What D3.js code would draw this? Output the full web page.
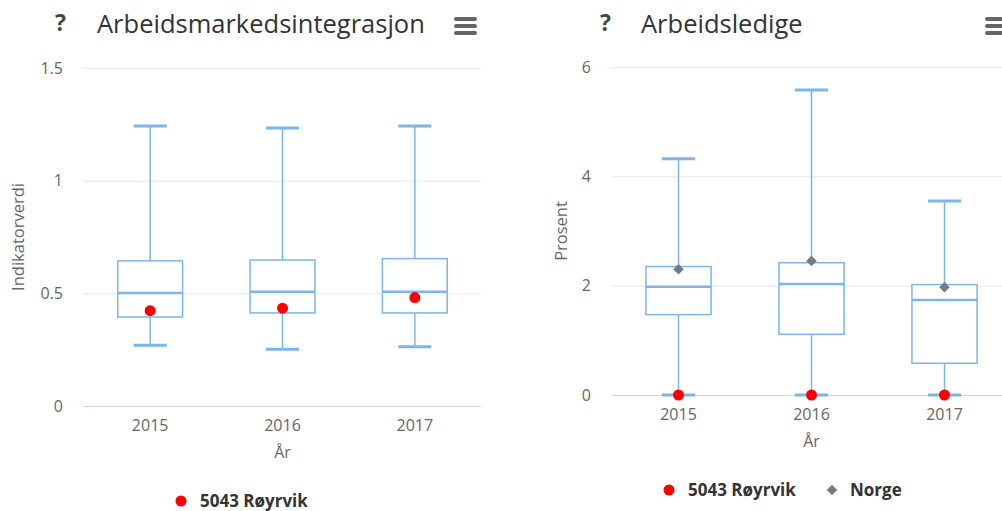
<!DOCTYPE html>
<html>
<head>
<meta charset="utf-8">
<script src="https://cdn.jsdelivr.net/npm/d3@7"></script>
<style>
  body { margin: 0; background: #fff; overflow: hidden; }
  text { font-family: "Open Sans", sans-serif; }
</style>
</head>
<body>
<div id="chartid"></div>
<script>
"use strict"

var years = ["2015", "2016", "2017"];

// Arbeidsmarkedsintegrasjon (indikatorverdi)
var integLow    = [0.270, 0.252, 0.263];
var integQ1     = [0.395, 0.413, 0.413];
var integMedian = [0.501, 0.507, 0.507];
var integQ3     = [0.644, 0.648, 0.654];
var integHigh   = [1.243, 1.234, 1.243];
var integRoyrvik = [0.423, 0.434, 0.481];
var integTicks  = [0, 0.5, 1, 1.5];

// Arbeidsledige (prosent)
var ledigLow    = [0, 0, 0];
var ledigQ1     = [1.47, 1.11, 0.58];
var ledigMedian = [1.98, 2.03, 1.74];
var ledigQ3     = [2.35, 2.42, 2.02];
var ledigHigh   = [4.32, 5.58, 3.55];
var ledigRoyrvik = [0, 0, 0];
var ledigNorge  = [2.30, 2.45, 1.97];
var ledigTicks  = [0, 2, 4, 6];

var svg = d3.select("#chartid").append("svg")
  .attr("width", 1002)
  .attr("height", 511);

function makeBoxes(low, q1, med, q3, high){
  return years.map(function(y, i){
    return {year: y, low: low[i], q1: q1[i], median: med[i], q3: q3[i], high: high[i]};
  });
}

function drawPanel(p){
  var g = svg.append("g");

  var x = d3.scaleBand().domain(years).range([p.left, p.right]);
  var y = d3.scaleLinear().domain([0, d3.max(p.ticks)]).range([p.bottom, p.top]);
  var bw = x.bandwidth();
  var cx = function(d){ return x(d) + bw / 2; };

  // title bar
  g.append("text").attr("x", p.qx).attr("y", 31)
    .attr("font-size", 23).attr("font-weight", "bold").attr("fill", "#444")
    .text("?");
  g.append("text").attr("x", p.titleX).attr("y", 33)
    .attr("font-size", 25.5).attr("fill", "#333")
    .text(p.title);
  [0, 7, 14].forEach(function(o){
    g.append("rect").attr("x", p.menuX).attr("y", 17 + o)
      .attr("width", 23).attr("height", 4).attr("rx", 2)
      .attr("fill", "#666");
  });

  // grid + y labels
  var yAxis = d3.axisLeft(y).tickValues(p.ticks)
    .tickSize(-(p.gridRight - p.left)).tickPadding(21)
    .tickFormat(function(d){ return String(d); });
  var ga = g.append("g").attr("transform", "translate(" + p.left + ",0)").call(yAxis);
  ga.select(".domain").remove();
  ga.selectAll(".tick line").attr("stroke", "#e6e6e6");
  ga.selectAll(".tick").filter(function(d){ return d === 0; }).select("line").attr("stroke", "#ccd6eb");
  ga.selectAll(".tick text").attr("fill", "#666").attr("font-size", 16)
    .style("font-family", "'Open Sans', sans-serif");

  // x labels
  var xAxis = d3.axisBottom(x).tickSize(0).tickPadding(14);
  var gx = g.append("g").attr("transform", "translate(0," + p.bottom + ")").call(xAxis);
  gx.select(".domain").remove();
  gx.selectAll(".tick text").attr("fill", "#666").attr("font-size", 16)
    .style("font-family", "'Open Sans', sans-serif");

  g.append("text").attr("x", (p.left + p.right) / 2).attr("y", p.bottom + 52)
    .attr("text-anchor", "middle").attr("font-size", 16).attr("fill", "#666")
    .text("År");

  g.append("text")
    .attr("transform", "translate(" + p.yTitleX + "," + ((p.top + p.bottom) / 2) + ") rotate(-90)")
    .attr("text-anchor", "middle").attr("font-size", 16.5).attr("fill", "#666")
    .text(p.yTitle);

  // box plots
  var boxW = bw * 0.49, capW = bw * 0.25;
  var bg = g.selectAll(".box").data(p.boxes).enter().append("g");
  bg.append("line")
    .attr("x1", function(d){ return cx(d.year); }).attr("x2", function(d){ return cx(d.year); })
    .attr("y1", function(d){ return y(d.high); }).attr("y2", function(d){ return y(d.q3); })
    .attr("stroke", "#7cb5ec").attr("stroke-width", 1.5);
  bg.append("line")
    .attr("x1", function(d){ return cx(d.year); }).attr("x2", function(d){ return cx(d.year); })
    .attr("y1", function(d){ return y(d.q1); }).attr("y2", function(d){ return y(d.low); })
    .attr("stroke", "#7cb5ec").attr("stroke-width", 1.5);
  bg.append("rect")
    .attr("x", function(d){ return cx(d.year) - boxW / 2; })
    .attr("y", function(d){ return y(d.q3); })
    .attr("width", boxW)
    .attr("height", function(d){ return y(d.q1) - y(d.q3); })
    .attr("fill", "#fff").attr("stroke", "#7cb5ec").attr("stroke-width", 1.5);
  bg.append("line")
    .attr("x1", function(d){ return cx(d.year) - boxW / 2; }).attr("x2", function(d){ return cx(d.year) + boxW / 2; })
    .attr("y1", function(d){ return y(d.median); }).attr("y2", function(d){ return y(d.median); })
    .attr("stroke", "#7cb5ec").attr("stroke-width", 2.5);
  ["low", "high"].forEach(function(k){
    bg.append("line")
      .attr("x1", function(d){ return cx(d.year) - capW / 2; }).attr("x2", function(d){ return cx(d.year) + capW / 2; })
      .attr("y1", function(d){ return y(d[k]); }).attr("y2", function(d){ return y(d[k]); })
      .attr("stroke", "#7cb5ec").attr("stroke-width", 3);
  });

  // Norge diamonds
  if (p.norge) {
    g.selectAll(".norge").data(p.norge).enter().append("path")
      .attr("d", d3.symbol().type(d3.symbolDiamond2).size(70))
      .attr("transform", function(d, i){ return "translate(" + cx(years[i]) + "," + y(d) + ")"; })
      .attr("fill", "#737b83");
  }
  // kommune points
  g.selectAll(".kom").data(p.kommune).enter().append("circle")
    .attr("cx", function(d, i){ return cx(years[i]); })
    .attr("cy", function(d){ return y(d); })
    .attr("r", 5.5).attr("fill", "#ff0000");

  // legend
  var ly = p.bottom + 101;
  var lg = g.append("g");
  lg.append("circle").attr("cx", p.legX).attr("cy", ly - 6).attr("r", 5.5).attr("fill", "#ff0000");
  lg.append("text").attr("x", p.legX + 19).attr("y", ly)
    .attr("font-size", 17).attr("font-weight", "bold").attr("fill", "#333")
    .text("5043 Røyrvik");
  if (p.norge) {
    lg.append("path").attr("d", d3.symbol().type(d3.symbolDiamond2).size(70))
      .attr("transform", "translate(" + (p.legX + 163) + "," + (ly - 6) + ")")
      .attr("fill", "#737b83");
    lg.append("text").attr("x", p.legX + 181).attr("y", ly)
      .attr("font-size", 17).attr("font-weight", "bold").attr("fill", "#333")
      .text("Norge");
  }
}

drawPanel({
  title: "Arbeidsmarkedsintegrasjon", qx: 55, titleX: 97, menuX: 454,
  left: 84, right: 481, gridRight: 481, top: 68, bottom: 406,
  ticks: integTicks, yTitle: "Indikatorverdi", yTitleX: 24,
  boxes: makeBoxes(integLow, integQ1, integMedian, integQ3, integHigh),
  kommune: integRoyrvik, norge: null, legX: 181
});

drawPanel({
  title: "Arbeidsledige", qx: 600, titleX: 641, menuX: 985,
  left: 612, right: 1011, gridRight: 1002, top: 67, bottom: 395,
  ticks: ledigTicks, yTitle: "Prosent", yTitleX: 567,
  boxes: makeBoxes(ledigLow, ledigQ1, ledigMedian, ledigQ3, ledigHigh),
  kommune: ledigRoyrvik, norge: ledigNorge, legX: 669
});
</script>
</body>
</html>
